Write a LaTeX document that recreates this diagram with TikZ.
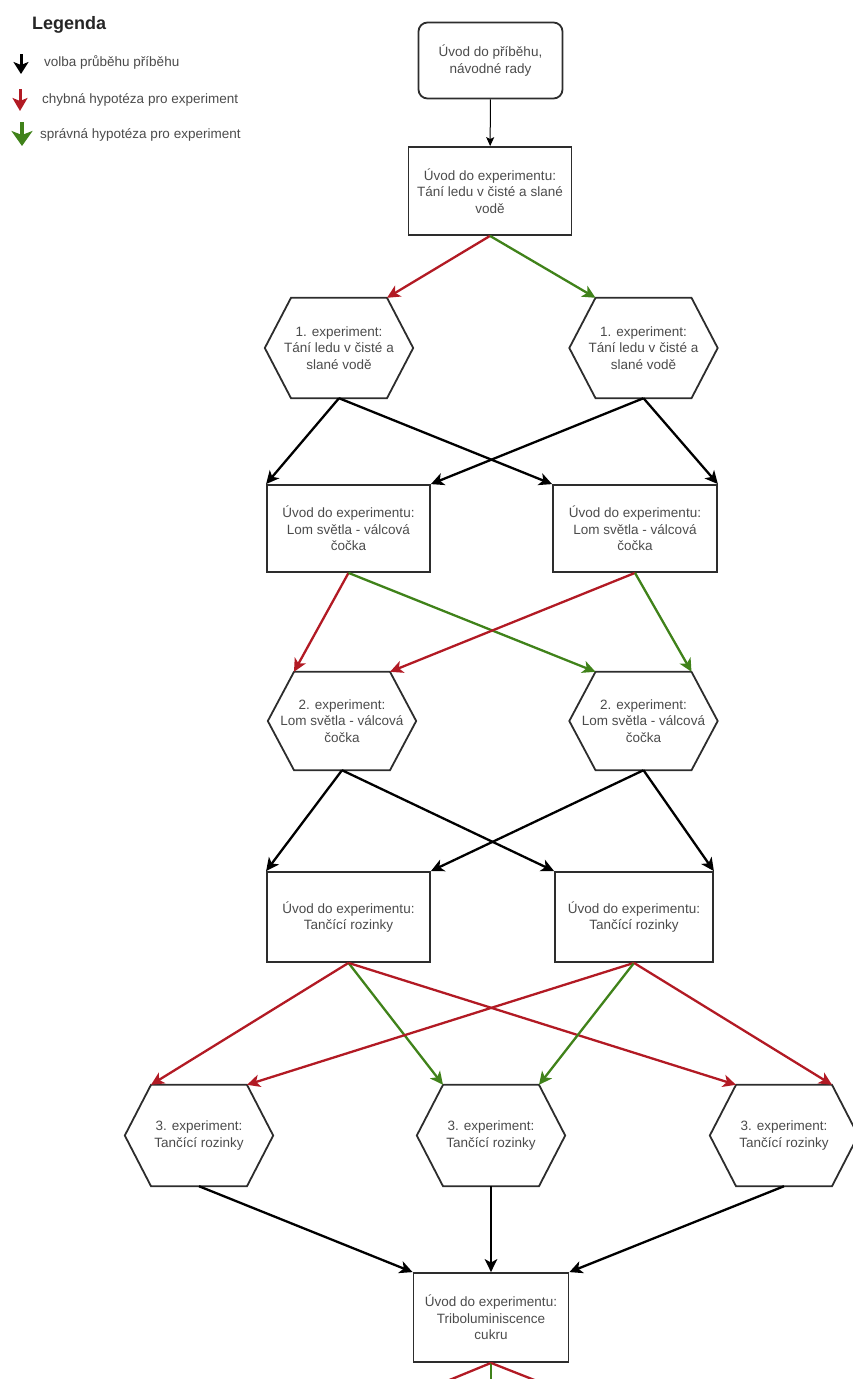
\documentclass[tikz,border=0pt]{standalone}
\usepackage{fontspec}
\setmainfont{Liberation Sans}
\usetikzlibrary{arrows.meta}
\definecolor{redarr}{RGB}{178,26,36}
\definecolor{greenarr}{RGB}{64,130,26}
\definecolor{boxline}{RGB}{45,45,45}
\definecolor{txt}{RGB}{75,75,75}
\begin{document}
\begin{tikzpicture}[x=1pt,y=-1pt,
  lbl/.style={font=\fontsize{13.5}{16.5}\selectfont, text=txt, align=center, inner sep=0pt},
  stepbox/.style={lbl, draw=boxline, line width=1.8pt, minimum width=162pt, minimum height=88pt},
  startbox/.style={stepbox, rounded corners=9pt, minimum width=144pt, minimum height=76pt},
  hexnode/.style={lbl, minimum width=148pt, minimum height=100pt},
  hexline/.style={draw=boxline, line width=1.8pt, line join=miter},
  conn/.style={line width=2.3pt, -{Stealth[length=13pt,width=12.5pt,inset=3.5pt]}},
  bl/.style={conn, draw=black},
  rd/.style={conn, draw=redarr},
  gr/.style={conn, draw=greenarr},
  thin/.style={line width=1pt, draw=black, -{Stealth[length=9pt,width=8pt,inset=2pt]}},
  legtext/.style={font=\fontsize{13.5}{16}\selectfont, text=txt, anchor=west, inner sep=0pt}
]
\useasboundingbox (0,0) rectangle (852,1379);

% Legend
\node[anchor=west, inner sep=0pt, font=\fontsize{18}{20}\selectfont\bfseries, text=black!85] (leg) at (32,25) {Legenda};
\coordinate (lbA) at (21,54); \coordinate (lbB) at (21,74);
\coordinate (lrA) at (20,89); \coordinate (lrB) at (20,111);
\coordinate (lgA) at (22,122); \coordinate (lgB) at (22,146);
\draw[line width=3pt, draw=black, -{Stealth[length=12pt,width=15pt,inset=3pt]}] (lbA) -- (lbB);
\draw[line width=3pt, draw=redarr, -{Stealth[length=13pt,width=15pt,inset=3pt]}] (lrA) -- (lrB);
\draw[line width=3.4pt, draw=greenarr, -{Stealth[length=15pt,width=21pt,inset=4pt]}] (lgA) -- (lgB);
\node[legtext] (l1) at (44,62) {volba průběhu příběhu};
\node[legtext] (l2) at (42,100) {chybná hypotéza pro experiment};
\node[legtext] (l3) at (40,135) {správná hypotéza pro experiment};

% Nodes
\node[startbox] (top) at (490.5,60.5) {Úvod do příběhu,\\návodné rady};
\node[stepbox, minimum width=163pt] (b0) at (490,191) {Úvod do experimentu:\\Tání ledu v čisté a slané\\vodě};

\node[hexnode] (h1L) at (339,348) {1. experiment:\\Tání ledu v čisté a\\slané vodě};
\node[hexnode] (h1R) at (643.5,348) {1. experiment:\\Tání ledu v čisté a\\slané vodě};

\node[stepbox, minimum width=163pt, minimum height=87pt] (b1L) at (348.5,528.5) {Úvod do experimentu:\\Lom světla - válcová\\čočka};
\node[stepbox, minimum width=164pt, minimum height=87pt] (b1R) at (635,528.5) {Úvod do experimentu:\\Lom světla - válcová\\čočka};

\node[hexnode, minimum height=98pt] (h2L) at (342,721) {2. experiment:\\Lom světla - válcová\\čočka};
\node[hexnode, minimum height=98pt] (h2R) at (643.5,721) {2. experiment:\\Lom světla - válcová\\čočka};

\node[stepbox, minimum width=163pt, minimum height=90pt] (b2L) at (348.5,917) {Úvod do experimentu:\\Tančící rozinky};
\node[stepbox, minimum width=158pt, minimum height=90pt] (b2R) at (634,917) {Úvod do experimentu:\\Tančící rozinky};

\node[hexnode, minimum height=101pt] (h3L) at (199,1135.5) {3. experiment:\\Tančící rozinky};
\node[hexnode, minimum height=101pt] (h3M) at (491,1135.5) {3. experiment:\\Tančící rozinky};
\node[hexnode, minimum height=101pt] (h3R) at (784,1135.5) {3. experiment:\\Tančící rozinky};

\node[stepbox, minimum width=155pt, minimum height=89pt] (b3) at (491,1317.5) {Úvod do experimentu:\\Triboluminiscence\\cukru};

\foreach \h in {h1L,h1R,h2L,h2R,h3L,h3M,h3R}
  \draw[hexline] ([xshift=-48pt]\h.north) -- ([xshift=48pt]\h.north) -- (\h.east)
     -- ([xshift=48pt]\h.south) -- ([xshift=-48pt]\h.south) -- (\h.west) -- cycle;

% Connectors
\draw[thin] (top) -- (b0);

\draw[rd] (b0.south) -- ([xshift=48pt]h1L.north);
\draw[gr] (b0.south) -- ([xshift=-48pt]h1R.north);

\draw[bl] (h1L.south) -- (b1L.north west);
\draw[bl] (h1L.south) -- (b1R.north west);
\draw[bl] (h1R.south) -- (b1L.north east);
\draw[bl] (h1R.south) -- (b1R.north east);

\draw[rd] (b1L.south) -- ([xshift=-48pt]h2L.north);
\draw[gr] (b1L.south) -- ([xshift=-48pt]h2R.north);
\draw[rd] (b1R.south) -- ([xshift=48pt]h2L.north);
\draw[gr] (b1R.south) -- ([xshift=48pt]h2R.north);

\draw[bl] (h2L.south) -- (b2L.north west);
\draw[bl] (h2L.south) -- (b2R.north west);
\draw[bl] (h2R.south) -- (b2L.north east);
\draw[bl] (h2R.south) -- (b2R.north east);

\draw[rd] (b2L.south) -- ([xshift=-48pt]h3L.north);
\draw[gr] (b2L.south) -- ([xshift=-48pt]h3M.north);
\draw[rd] (b2L.south) -- ([xshift=-48pt]h3R.north);
\draw[rd] (b2R.south) -- ([xshift=48pt]h3L.north);
\draw[gr] (b2R.south) -- ([xshift=48pt]h3M.north);
\draw[rd] (b2R.south) -- ([xshift=48pt]h3R.north);

\draw[bl] (h3L.south) -- (b3.north west);
\draw[bl] (h3M.south) -- (b3.north);
\draw[bl] (h3R.south) -- (b3.north east);

\coordinate (outL) at (447,1381);
\coordinate (outM) at (491,1381);
\coordinate (outR) at (537,1381);
\draw[redarr, line width=2.3pt] (b3.south) -- (outL);
\draw[greenarr, line width=2.3pt] (b3.south) -- (outM);
\draw[redarr, line width=2.3pt] (b3.south) -- (outR);
\end{tikzpicture}
\end{document}
